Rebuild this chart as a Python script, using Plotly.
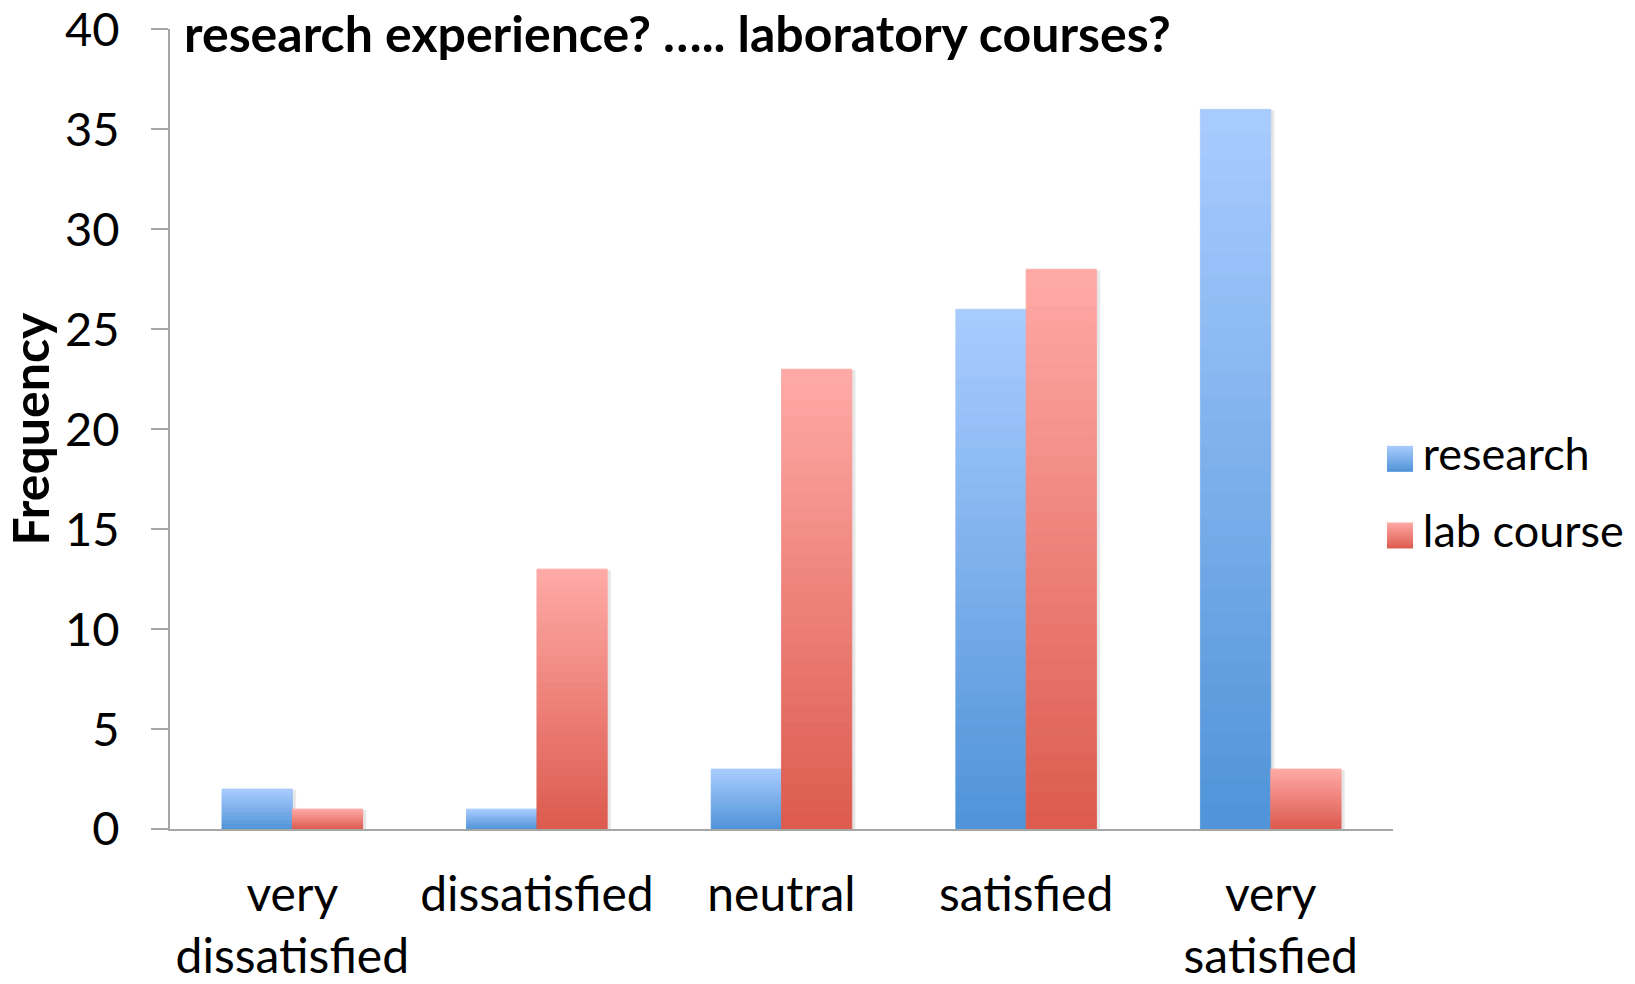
import plotly.graph_objects as go

# Survey answers: satisfaction with research experience vs. laboratory courses
categories = ["very<br>dissatisfied", "dissatisfied", "neutral", "satisfied", "very<br>satisfied"]
research = [2, 1, 3, 26, 36]
lab_course = [1, 13, 23, 28, 3]
y_ticks = [0, 5, 10, 15, 20, 25, 30, 35, 40]

series = [
    # name, values, top colour, bottom colour, bar offset
    ("research", research, (170, 204, 255), (79, 147, 216), -0.2875),
    ("lab course", lab_course, (255, 170, 166), (220, 90, 78), 0.0),
]

BAR_W = 0.2875
N_SEG = 30  # slices per bar used to render the vertical colour fade

FONT = "Lato"
PLOT_FRAC = 0.8464  # share of the drawing width used by the bar chart


def mix(c_top, c_bot, t):
    r, g, b = (round(a + (bb - a) * t) for a, bb in zip(c_top, c_bot))
    return f"rgb({r},{g},{b})"


fig = go.Figure()

# soft drop shadow behind each bar
for name, vals, top, bot, off in series:
    for k, alpha in enumerate([0.04, 0.06]):
        fig.add_trace(go.Bar(
            x=categories, y=[v + 0.15 - 0.05 * k for v in vals], base=-0.2 + 0.05 * k,
            width=BAR_W + 0.012 - 0.004 * k, offset=off + 0.004 + 0.002 * k,
            marker=dict(color=f"rgba(0,0,0,{alpha})", line=dict(width=0)),
            showlegend=False, hoverinfo="skip",
        ))

# bars, each built from stacked slices fading from light (top) to dark (bottom)
for name, vals, top, bot, off in series:
    for k in range(N_SEG):
        t = 1 - (k + 0.5) / N_SEG
        col = mix(top, bot, t)
        fig.add_trace(go.Bar(
            x=categories,
            y=[v / N_SEG for v in vals],
            base=[v * k / N_SEG for v in vals],
            width=BAR_W, offset=off,
            marker=dict(color=col, line=dict(width=0.8, color=col)),
            name=name, showlegend=False,
            hovertemplate=f"{name}: %{{customdata}}<extra></extra>",
            customdata=vals,
        ))

# legend swatches with vertical gradient, drawn on an overlay axis
legend_names = ["\u2009" + s[0] for s in series]
fig.add_trace(go.Scatter(
    x=[0, 0], y=[1, 0], xaxis="x2", yaxis="y2", mode="markers+text",
    marker=dict(
        symbol="square", size=26,
        color=[mix(s[2], s[3], 0) for s in series],
        gradient=dict(type="vertical", color=[mix(s[2], s[3], 1) for s in series]),
        line=dict(width=0),
    ),
    text=legend_names, textposition="middle right",
    textfont=dict(family=FONT, size=45, color="black"),
    showlegend=False, hoverinfo="skip", cliponaxis=False,
))

fig.update_layout(
    width=1635, height=984,
    margin=dict(l=170, r=20, t=29, b=155),
    paper_bgcolor="white", plot_bgcolor="white",
    barmode="overlay",
    showlegend=False,
    font=dict(family=FONT, color="black"),
    xaxis=dict(
        type="category", domain=[0, PLOT_FRAC], showgrid=False, zeroline=False,
        showline=True, linecolor="#a6a6a6", linewidth=2,
        ticks="", ticklabelstandoff=22, automargin=False, tickangle=0,
        tickfont=dict(family=FONT, size=48, color="black"),
        fixedrange=True,
    ),
    yaxis=dict(
        range=[0, 40.02], tickvals=y_ticks, showgrid=False, zeroline=False,
        showline=True, linecolor="#a6a6a6", linewidth=2,
        ticks="outside", ticklen=17, tickwidth=2, tickcolor="#a6a6a6",
        ticklabelstandoff=22, ticklabeloverflow="allow", automargin=False,
        tickfont=dict(family=FONT, size=47, color="black"),
        title=dict(text="<b>Frequency</b>", font=dict(family=FONT, size=50), standoff=16),
        fixedrange=True,
    ),
    xaxis2=dict(domain=[0.8412, 0.8612], range=[-0.5, 0.5], visible=False, anchor="y2"),
    yaxis2=dict(domain=[0.319, 0.5106], range=[-0.5, 1.5], visible=False, anchor="x2"),
    annotations=[dict(
        text="<b>research experience? ….. laboratory courses?</b>",
        xref="paper", yref="paper", x=0.0083, y=0.995,
        xanchor="left", yanchor="middle", showarrow=False,
        font=dict(family=FONT, size=50, color="black"),
    )],
)

fig.write_html("out.html")
